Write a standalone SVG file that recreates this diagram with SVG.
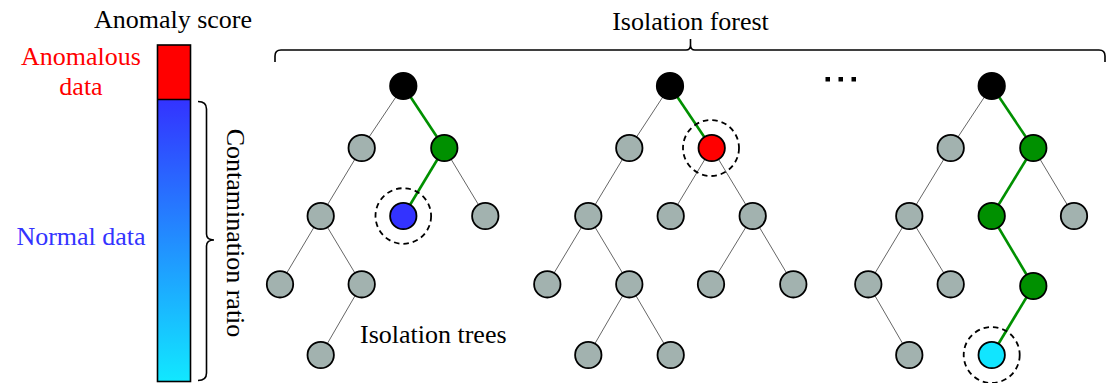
<svg xmlns="http://www.w3.org/2000/svg" width="1110" height="383" viewBox="0 0 1110 383">
  <style>
    text { font-family: "Liberation Serif", "Times New Roman", serif; font-size: 26px; }
    .brace { fill: none; stroke: #000; stroke-width: 1.6; }
    .e { stroke: #555; stroke-width: 0.9; }
    .p { stroke: #009000; stroke-width: 2.6; }
    .n { stroke: #000; stroke-width: 1.8; }
    .gray { fill: #a2b2af; }
    .root { fill: #000; }
    .green { fill: #009000; }
    .ring { fill: none; stroke: #000; stroke-width: 1.8; stroke-dasharray: 5.5 4; }
  </style>
  <defs>
    <linearGradient id="normalGrad" x1="0" y1="0" x2="0" y2="1">
      <stop offset="0" stop-color="#3333ff"/>
      <stop offset="1" stop-color="#11e8ff"/>
    </linearGradient>
  </defs>
  <rect width="1110" height="383" fill="#fff"/>

  <!-- score bar -->
  <g id="score-bar">
    <text x="173" y="28" text-anchor="middle">Anomaly score</text>
    <rect x="157.5" y="45" width="33" height="54.5" fill="#ff0000"/>
    <rect x="157.5" y="99.5" width="33" height="282" fill="url(#normalGrad)"/>
    <rect x="157.5" y="45" width="33" height="336.5" fill="none" stroke="#000" stroke-width="1.6"/>
    <line x1="157.5" y1="99.5" x2="190.5" y2="99.5" stroke="#000" stroke-width="1.6"/>
    <text x="81" y="65" text-anchor="middle" fill="#ff0000">Anomalous</text>
    <text x="81" y="95" text-anchor="middle" fill="#ff0000">data</text>
    <text x="81" y="245" text-anchor="middle" fill="#3333ff">Normal data</text>
    <path class="brace" d="M198,101.5 Q206.5,101.5 206.5,109 V234 Q206.5,240 214,240 M206.5,246 Q206.5,240 214,240 M206.5,246 V373 Q206.5,380.5 198,380.5"/>
    <text transform="translate(227,233) rotate(90)" text-anchor="middle">Contamination ratio</text>
  </g>

  <!-- forest header -->
  <g id="forest-label">
    <text x="690.5" y="30" text-anchor="middle">Isolation forest</text>
    <path class="brace" d="M275,62 V56 Q275,50 281,50 H686 Q690.5,50 690.5,45 V39 M690.5,45 Q690.5,50 695,50 H1099 Q1105,50 1105,56 V62"/>
    <rect x="825.5" y="77" width="4.5" height="4.5" fill="#000"/>
    <rect x="838.5" y="77" width="4.5" height="4.5" fill="#000"/>
    <rect x="851.5" y="77" width="4.5" height="4.5" fill="#000"/>
  </g>
  <text id="trees-label" x="360" y="343">Isolation trees</text>

  <g id="connectors">
    <!-- tree 1 -->
    <line class="e" x1="403.3" y1="86" x2="361.7" y2="148"/>
    <line class="p" x1="403.3" y1="86" x2="444.3" y2="148"/>
    <line class="e" x1="361.7" y1="148" x2="320.7" y2="216"/>
    <line class="p" x1="444.3" y1="148" x2="403.3" y2="216"/>
    <line class="e" x1="444.3" y1="148" x2="485.3" y2="216"/>
    <line class="e" x1="320.7" y1="216" x2="280" y2="284.3"/>
    <line class="e" x1="320.7" y1="216" x2="361.7" y2="284.3"/>
    <line class="e" x1="361.7" y1="284.3" x2="320.7" y2="355"/>
    <!-- tree 2 -->
    <line class="e" x1="670" y1="86" x2="629.3" y2="148"/>
    <line class="p" x1="670" y1="86" x2="711.7" y2="148"/>
    <line class="e" x1="629.3" y1="148" x2="588.3" y2="216"/>
    <line class="e" x1="711.7" y1="148" x2="670.7" y2="216"/>
    <line class="e" x1="711.7" y1="148" x2="752.7" y2="216"/>
    <line class="e" x1="588.3" y1="216" x2="547.3" y2="284.3"/>
    <line class="e" x1="588.3" y1="216" x2="629.3" y2="284.3"/>
    <line class="e" x1="752.7" y1="216" x2="711" y2="284.3"/>
    <line class="e" x1="752.7" y1="216" x2="793.3" y2="284.3"/>
    <line class="e" x1="629.3" y1="284.3" x2="588.3" y2="355"/>
    <line class="e" x1="629.3" y1="284.3" x2="670.7" y2="355"/>
    <!-- tree 3 -->
    <line class="e" x1="991.7" y1="86" x2="950.7" y2="148"/>
    <line class="p" x1="991.7" y1="86" x2="1033.3" y2="148"/>
    <line class="e" x1="950.7" y1="148" x2="909.3" y2="216"/>
    <line class="p" x1="1033.3" y1="148" x2="991.7" y2="216"/>
    <line class="e" x1="1033.3" y1="148" x2="1074" y2="216"/>
    <line class="e" x1="909.3" y1="216" x2="868.3" y2="284.3"/>
    <line class="e" x1="909.3" y1="216" x2="950.7" y2="284.3"/>
    <line class="p" x1="991.7" y1="216" x2="1033.3" y2="286"/>
    <line class="e" x1="868.3" y1="284.3" x2="909.3" y2="355"/>
    <line class="p" x1="1033.3" y1="286" x2="991.7" y2="355"/>
  </g>

  <!-- tree 1 -->
  <g id="tree1">
    <g id="t1-root"><circle class="n root" cx="403.3" cy="86" r="13.2"/></g>
    <g id="t1-a"><circle class="n gray" cx="361.7" cy="148" r="13.2"/></g>
    <g id="t1-b"><circle class="n green" cx="444.3" cy="148" r="13.2"/></g>
    <g id="t1-c"><circle class="n gray" cx="320.7" cy="216" r="13.2"/></g>
    <g id="t1-anomaly">
      <circle class="n" fill="#3333ff" cx="403.3" cy="216" r="13.2"/>
      <circle class="ring" cx="403.3" cy="216" r="27.8"/>
    </g>
    <g id="t1-d"><circle class="n gray" cx="485.3" cy="216" r="13.2"/></g>
    <g id="t1-e"><circle class="n gray" cx="280" cy="284.3" r="13.2"/></g>
    <g id="t1-f"><circle class="n gray" cx="361.7" cy="284.3" r="13.2"/></g>
    <g id="t1-g"><circle class="n gray" cx="320.7" cy="355" r="13.2"/></g>
  </g>

  <!-- tree 2 -->
  <g id="tree2">
    <g id="t2-root"><circle class="n root" cx="670" cy="86" r="13.2"/></g>
    <g id="t2-a"><circle class="n gray" cx="629.3" cy="148" r="13.2"/></g>
    <g id="t2-anomaly">
      <circle class="n" fill="#ff0000" cx="711.7" cy="148" r="13.2"/>
      <circle class="ring" cx="711" cy="148" r="28"/>
    </g>
    <g id="t2-b"><circle class="n gray" cx="588.3" cy="216" r="13.2"/></g>
    <g id="t2-c"><circle class="n gray" cx="670.7" cy="216" r="13.2"/></g>
    <g id="t2-d"><circle class="n gray" cx="752.7" cy="216" r="13.2"/></g>
    <g id="t2-e"><circle class="n gray" cx="547.3" cy="284.3" r="13.2"/></g>
    <g id="t2-f"><circle class="n gray" cx="629.3" cy="284.3" r="13.2"/></g>
    <g id="t2-g"><circle class="n gray" cx="711" cy="284.3" r="13.2"/></g>
    <g id="t2-h"><circle class="n gray" cx="793.3" cy="284.3" r="13.2"/></g>
    <g id="t2-i"><circle class="n gray" cx="588.3" cy="355" r="13.2"/></g>
    <g id="t2-j"><circle class="n gray" cx="670.7" cy="355" r="13.2"/></g>
  </g>

  <!-- tree 3 -->
  <g id="tree3">
    <g id="t3-root"><circle class="n root" cx="991.7" cy="86" r="13.2"/></g>
    <g id="t3-a"><circle class="n gray" cx="950.7" cy="148" r="13.2"/></g>
    <g id="t3-b"><circle class="n green" cx="1033.3" cy="148" r="13.2"/></g>
    <g id="t3-c"><circle class="n gray" cx="909.3" cy="216" r="13.2"/></g>
    <g id="t3-d"><circle class="n green" cx="991.7" cy="216" r="13.2"/></g>
    <g id="t3-e"><circle class="n gray" cx="1074" cy="216" r="13.2"/></g>
    <g id="t3-f"><circle class="n gray" cx="868.3" cy="284.3" r="13.2"/></g>
    <g id="t3-g"><circle class="n gray" cx="950.7" cy="284.3" r="13.2"/></g>
    <g id="t3-h"><circle class="n green" cx="1033.3" cy="286" r="13.2"/></g>
    <g id="t3-i"><circle class="n gray" cx="909.3" cy="355" r="13.2"/></g>
    <g id="t3-anomaly">
      <circle class="n" fill="#11e5ff" cx="991.7" cy="355" r="13.2"/>
      <circle class="ring" cx="991.7" cy="355" r="28"/>
    </g>
  </g>
</svg>
